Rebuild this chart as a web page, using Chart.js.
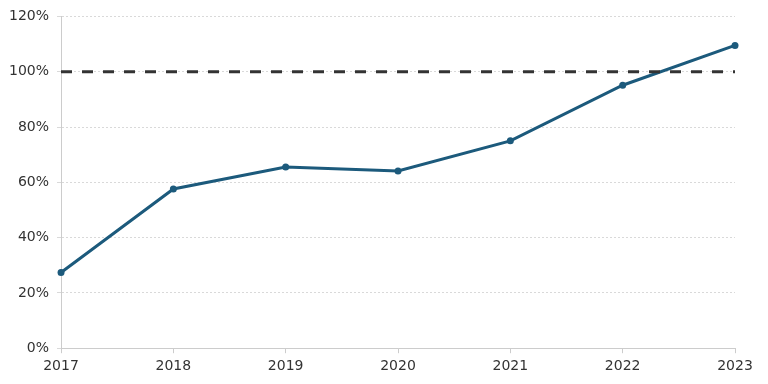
<!DOCTYPE html>
<html>
<head>
<meta charset="utf-8">
<script src="https://cdn.jsdelivr.net/npm/chart.js@4"></script>
<style>
  html, body { margin: 0; padding: 0; background: #fff; }
  #wrap { width: 768px; height: 384px; }
</style>
</head>
<body>
<div id="wrap"><canvas id="chart"></canvas></div>
<script>
// Chart data
const years = ['2017', '2018', '2019', '2020', '2021', '2022', '2023'];
const ratioValues = [27.4, 57.6, 65.5, 64.1, 75.0, 95.1, 109.5];
const targetValues = [100, 100, 100, 100, 100, 100, 100];
const yTicks = [0, 20, 40, 60, 80, 100, 120];

Chart.defaults.font.family = 'DejaVu Sans';
Chart.defaults.font.size = 14;
Chart.defaults.color = '#333';

new Chart(document.getElementById('chart'), {
  type: 'line',
  data: {
    labels: years,
    datasets: [
      {
        data: targetValues,
        borderColor: '#333',
        borderWidth: 3,
        borderDash: [11, 10],
        pointRadius: 0,
        fill: false
      },
      {
        data: ratioValues,
        borderColor: '#1c5a7c',
        backgroundColor: '#1c5a7c',
        borderWidth: 3,
        pointRadius: 3.5,
        pointBorderWidth: 0,
        pointBackgroundColor: '#1c5a7c',
        tension: 0,
        fill: false
      }
    ]
  },
  options: {
    responsive: true,
    maintainAspectRatio: false,
    animation: false,
    layout: { padding: { left: 1, right: 33, top: 0, bottom: 4 } },
    scales: {
      x: {
        offset: false,
        grid: { drawOnChartArea: false, color: '#ccc', tickLength: 5 },
        border: { color: '#ccc', dash: [2, 2] },
        ticks: { padding: 5 }
      },
      y: {
        min: 0,
        max: 120,
        afterBuildTicks: axis => { axis.ticks = yTicks.map(v => ({ value: v })); },
        grid: { color: '#d9d9d9', tickLength: 4 },
        border: { color: '#ccc', dash: [2, 2] },
        ticks: { padding: 8, callback: v => v + '%' }
      }
    },
    plugins: {
      legend: { display: false },
      tooltip: { enabled: false }
    }
  }
});
</script>
</body>
</html>
